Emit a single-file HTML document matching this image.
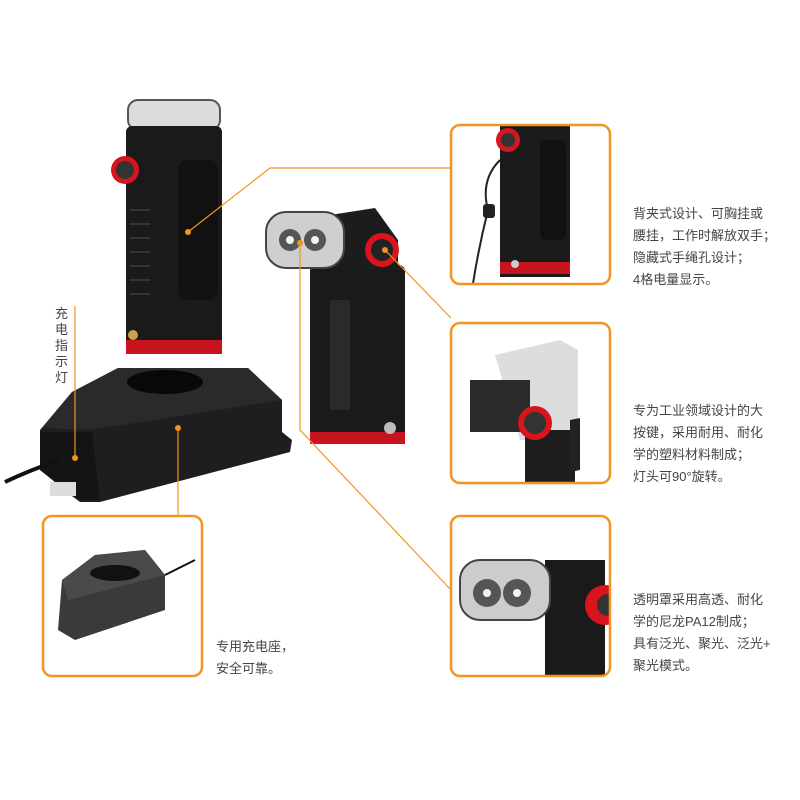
<!DOCTYPE html>
<html><head><meta charset="utf-8"><style>
html,body{margin:0;padding:0;background:#fff;}
svg{display:block;}
text{font-family:"Liberation Sans","Noto Sans CJK SC",sans-serif;fill:#454545;font-size:13px;}
</style></head><body>
<svg width="800" height="800" viewBox="0 0 800 800" xmlns="http://www.w3.org/2000/svg">
<defs>
<clipPath id="c1"><rect x="451" y="125" width="159" height="159" rx="9"/></clipPath>
<clipPath id="c2"><rect x="451" y="323" width="159" height="160" rx="9"/></clipPath>
<clipPath id="c3"><rect x="451" y="516" width="159" height="160" rx="9"/></clipPath>
<clipPath id="c4"><rect x="43" y="516" width="159" height="160" rx="9"/></clipPath>
</defs>
<rect width="800" height="800" fill="#fff"/>

<!-- charger base (main) -->
<polygon points="72,392 118,368 248,368 282,400 282,432 292,440 290,452 100,502 80,502 72,496 40,470 40,430" fill="#1e1e1e"/>
<polygon points="72,392 118,368 248,368 282,400 90,430 42,428" fill="#2a2a2a"/>
<ellipse cx="165" cy="382" rx="38" ry="12" fill="#080808"/>
<polygon points="40,432 92,432 100,500 80,500 40,470" fill="#141414"/>
<path d="M5,482 Q30,470 60,460" stroke="#111" stroke-width="4" fill="none"/>
<rect x="50" y="482" width="26" height="14" fill="#ddd"/>

<!-- left flashlight -->
<rect x="128" y="100" width="92" height="30" rx="10" fill="#dcdcdc" stroke="#555" stroke-width="2"/>
<rect x="126" y="126" width="96" height="225" rx="6" fill="#1a1a1a"/>
<rect x="126" y="340" width="96" height="14" fill="#c8141e"/>
<rect x="178" y="160" width="40" height="140" rx="10" fill="#111"/>
<g stroke="#333" stroke-width="2">
<line x1="130" y1="210" x2="150" y2="210"/><line x1="130" y1="224" x2="150" y2="224"/><line x1="130" y1="238" x2="150" y2="238"/><line x1="130" y1="252" x2="150" y2="252"/><line x1="130" y1="266" x2="150" y2="266"/><line x1="130" y1="280" x2="150" y2="280"/><line x1="130" y1="294" x2="150" y2="294"/>
</g>
<circle cx="125" cy="170" r="14" fill="#d8141e"/><circle cx="125" cy="170" r="9" fill="#333"/>
<circle cx="133" cy="335" r="5" fill="#c9a34a"/>

<!-- center flashlight -->
<rect x="310" y="265" width="95" height="175" rx="6" fill="#1a1a1a"/>
<rect x="310" y="432" width="95" height="12" fill="#c8141e"/>
<polygon points="330,215 375,208 398,240 398,270 330,270" fill="#1c1c1c"/>
<rect x="266" y="212" width="78" height="56" rx="20" fill="#cfcfcf" stroke="#444" stroke-width="2"/>
<circle cx="290" cy="240" r="11" fill="#555"/><circle cx="315" cy="240" r="11" fill="#555"/>
<circle cx="290" cy="240" r="4" fill="#eaf8ea"/><circle cx="315" cy="240" r="4" fill="#eaf8ea"/>
<circle cx="382" cy="250" r="17" fill="#d8141e"/><circle cx="382" cy="250" r="11" fill="#222"/>
<rect x="330" y="300" width="20" height="110" fill="#2a2a2a"/>
<circle cx="390" cy="428" r="6" fill="#bbb"/>

<!-- connectors -->
<g stroke="#f0951f" stroke-width="1.2" fill="none">
<polyline points="188,232 270,168 451,168"/>
<line x1="385" y1="250" x2="451" y2="318"/>
<polyline points="300,243 300,430 451,590"/>
<line x1="178" y1="428" x2="178" y2="516"/>
<line x1="75" y1="458" x2="75" y2="306"/>
</g>
<g fill="#f0951f">
<circle cx="188" cy="232" r="3"/><circle cx="385" cy="250" r="3"/><circle cx="300" cy="243" r="3"/><circle cx="178" cy="428" r="3"/><circle cx="75" cy="458" r="3"/>
</g>

<!-- box contents -->
<g clip-path="url(#c1)">
<rect x="500" y="120" width="70" height="157" fill="#1b1b1b"/>
<rect x="500" y="262" width="70" height="12" fill="#c8141e"/>
<rect x="540" y="140" width="26" height="100" rx="6" fill="#111"/>
<circle cx="508" cy="140" r="12" fill="#d8141e"/><circle cx="508" cy="140" r="7" fill="#333"/>
<path d="M500,160 Q480,180 488,210 Q478,250 472,290" stroke="#222" stroke-width="2" fill="none"/>
<rect x="483" y="204" width="12" height="14" rx="3" fill="#222"/>
<circle cx="515" cy="264" r="4" fill="#ccc"/>
</g>
<g clip-path="url(#c2)">
<polygon points="495,355 560,340 578,350 578,440 520,440" fill="#bbb" opacity="0.5"/>
<rect x="470" y="380" width="60" height="52" fill="#2a2a2a"/>
<rect x="525" y="430" width="50" height="60" fill="#1e1e1e"/>
<circle cx="535" cy="423" r="17" fill="#d8141e"/><circle cx="535" cy="423" r="11" fill="#333"/>
<polygon points="570,420 580,418 580,470 570,472" fill="#222"/>
</g>
<g clip-path="url(#c3)">
<rect x="545" y="560" width="60" height="120" fill="#1a1a1a"/>
<rect x="460" y="560" width="90" height="60" rx="20" fill="#ccc" stroke="#444" stroke-width="2"/>
<circle cx="487" cy="593" r="14" fill="#555"/><circle cx="517" cy="593" r="14" fill="#555"/>
<circle cx="487" cy="593" r="4" fill="#eaf8ea"/><circle cx="517" cy="593" r="4" fill="#eaf8ea"/>
<circle cx="605" cy="605" r="20" fill="#d8141e"/><circle cx="608" cy="605" r="11" fill="#333"/>
</g>
<g clip-path="url(#c4)">
<polygon points="62,580 95,555 145,550 165,575 165,610 75,640 58,630" fill="#3a3a3a"/>
<polygon points="62,580 95,555 145,550 165,575 68,600" fill="#4a4a4a"/>
<ellipse cx="115" cy="573" rx="25" ry="8" fill="#111"/>
<line x1="165" y1="575" x2="195" y2="560" stroke="#111" stroke-width="2"/>
</g>

<!-- boxes -->
<g fill="none" stroke="#f0951f" stroke-width="2.5">
<rect x="451" y="125" width="159" height="159" rx="9"/>
<rect x="451" y="323" width="159" height="160" rx="9"/>
<rect x="451" y="516" width="159" height="160" rx="9"/>
<rect x="43" y="516" width="159" height="160" rx="9"/>
</g>

<!-- text -->
<text x="633" y="218">背夹式设计、可胸挂或</text>
<text x="633" y="240">腰挂，工作时解放双手；</text>
<text x="633" y="262">隐藏式手绳孔设计；</text>
<text x="633" y="284">4格电量显示。</text>
<text x="633" y="415">专为工业领域设计的大</text>
<text x="633" y="437">按键，采用耐用、耐化</text>
<text x="633" y="459">学的塑料材料制成；</text>
<text x="633" y="481">灯头可90°旋转。</text>
<text x="633" y="604">透明罩采用高透、耐化</text>
<text x="633" y="626">学的尼龙PA12制成；</text>
<text x="633" y="648">具有泛光、聚光、泛光+</text>
<text x="633" y="670">聚光模式。</text>
<text x="216" y="651">专用充电座，</text>
<text x="216" y="673">安全可靠。</text>
<text x="55" y="318">充</text><text x="55" y="334">电</text><text x="55" y="350">指</text><text x="55" y="366">示</text><text x="55" y="382">灯</text>
</svg>
</body></html>
